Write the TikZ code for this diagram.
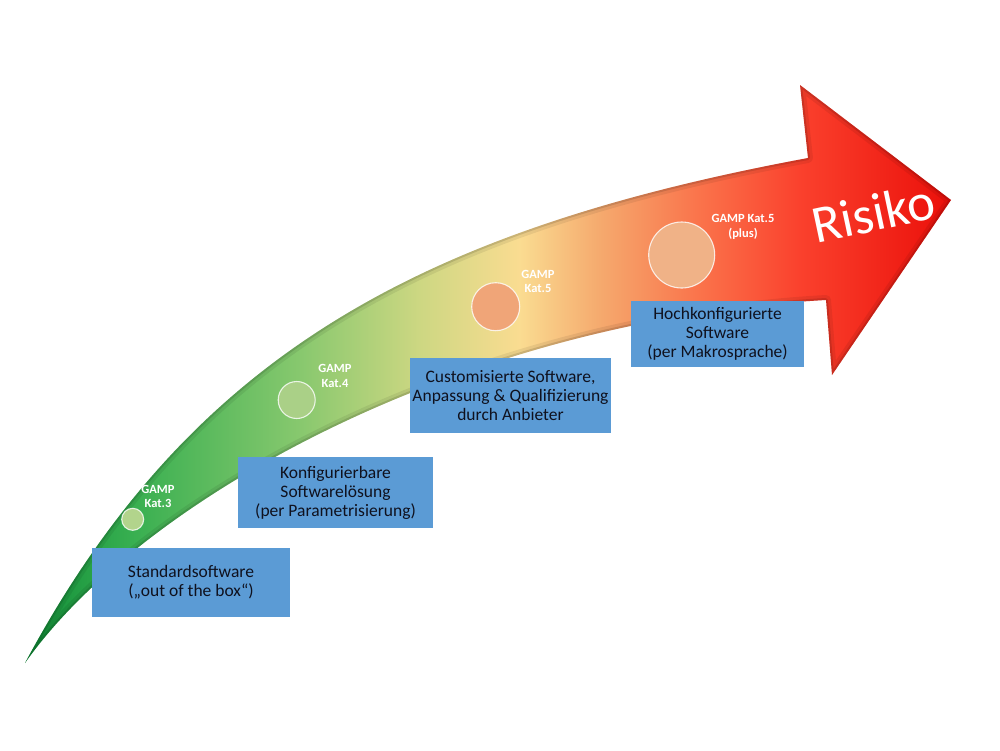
\documentclass[tikz,border=0pt]{standalone}
\usepackage{fontspec}
\setmainfont{Carlito}
\definecolor{c0}{RGB}{15,140,55}
\definecolor{c1}{RGB}{55,175,80}
\definecolor{c2}{RGB}{135,200,110}
\definecolor{c3}{RGB}{205,215,130}
\definecolor{c4}{RGB}{250,220,145}
\definecolor{c5}{RGB}{245,170,110}
\definecolor{c6}{RGB}{250,115,75}
\definecolor{c7}{RGB}{250,65,45}
\definecolor{c8}{RGB}{235,15,10}
\definecolor{boxblue}{RGB}{91,155,213}
\definecolor{boxtext}{RGB}{15,17,30}
\definecolor{k3}{RGB}{178,212,140}
\definecolor{k4}{RGB}{170,208,135}
\definecolor{k5}{RGB}{240,165,120}
\definecolor{k5p}{RGB}{240,178,135}
\pgfdeclarehorizontalshading{riskshade}{100bp}{color(0bp)=(c0); color(25bp)=(c0); color(30.7bp)=(c1); color(39.8bp)=(c2); color(46.3bp)=(c3); color(51.7bp)=(c4); color(56bp)=(c5); color(61.4bp)=(c6); color(66.8bp)=(c7); color(75bp)=(c8); color(100bp)=(c8)}
\begin{document}
\begin{tikzpicture}[x=1pt,y=-1pt,
  infobox/.style={fill=boxblue, draw=none, inner sep=0pt, align=center, text=boxtext,
    font=\fontsize{17.5}{19}\selectfont},
  gampcirc/.style={circle, inner sep=0pt, draw=white, draw opacity=0.8, line width=1.1pt},
  gamplabel/.style={text=white, align=center, inner sep=0pt,
    font=\bfseries\fontsize{12.5}{14.5}\selectfont}]
\useasboundingbox (0,0) rectangle (1000,750);
\def\arrowpath{(25,663) .. controls (190,355) and (420,230) .. (808,158) -- (800,85) -- (951,200) -- (832,375) -- (826,300) .. controls (460,320) and (140,500) .. (25,663) -- cycle}
\shade[shading=riskshade] \arrowpath;
\begin{scope}
  \clip \arrowpath;
  \draw[line width=10pt, draw=black, opacity=0.07, line join=round] \arrowpath;
  \draw[line width=4pt, draw=black, opacity=0.12, line join=round] \arrowpath;
\end{scope}
% circles
\node[gampcirc, minimum size=22pt, fill=k3] (c3) at (132.7,519.3) {};
\node[gampcirc, minimum size=37pt, fill=k4] (c4) at (296.7,400) {};
\node[gampcirc, minimum size=48pt, fill=k5] (c5) at (495.7,306.7) {};
\node[gampcirc, minimum size=66pt, fill=k5p] (c5p) at (681.7,255) {};
% labels
\node[gamplabel] (l3) at (158,496.5) {GAMP\\Kat.3};
\node[gamplabel] (l4) at (335,376) {GAMP\\Kat.4};
\node[gamplabel] (l5) at (538,281.5) {GAMP\\Kat.5};
\node[gamplabel] (l5p) at (743,227) {GAMP Kat.5\\(plus)};
% Risiko
\node[text=white, inner sep=0pt, rotate=12, font=\fontsize{53}{55}\selectfont] (risk) at (873,213) {Risiko};
% boxes
\node[infobox, minimum width=198pt, minimum height=69pt] (b1) at (191,582.5) {Standardsoftware\\(„out of the box“)};
\node[infobox, minimum width=195pt, minimum height=71pt] (b2) at (335.5,492.5) {Konfigurierbare\\Softwarelösung\\(per Parametrisierung)};
\node[infobox, minimum width=201pt, minimum height=75pt] (b3) at (510.5,395.5) {Customisierte Software,\\Anpassung \& Qualifizierung\\durch Anbieter};
\node[infobox, minimum width=173pt, minimum height=66pt] (b4) at (717.5,334) {Hochkonfigurierte\\Software\\(per Makrosprache)};
\end{tikzpicture}
\end{document}
